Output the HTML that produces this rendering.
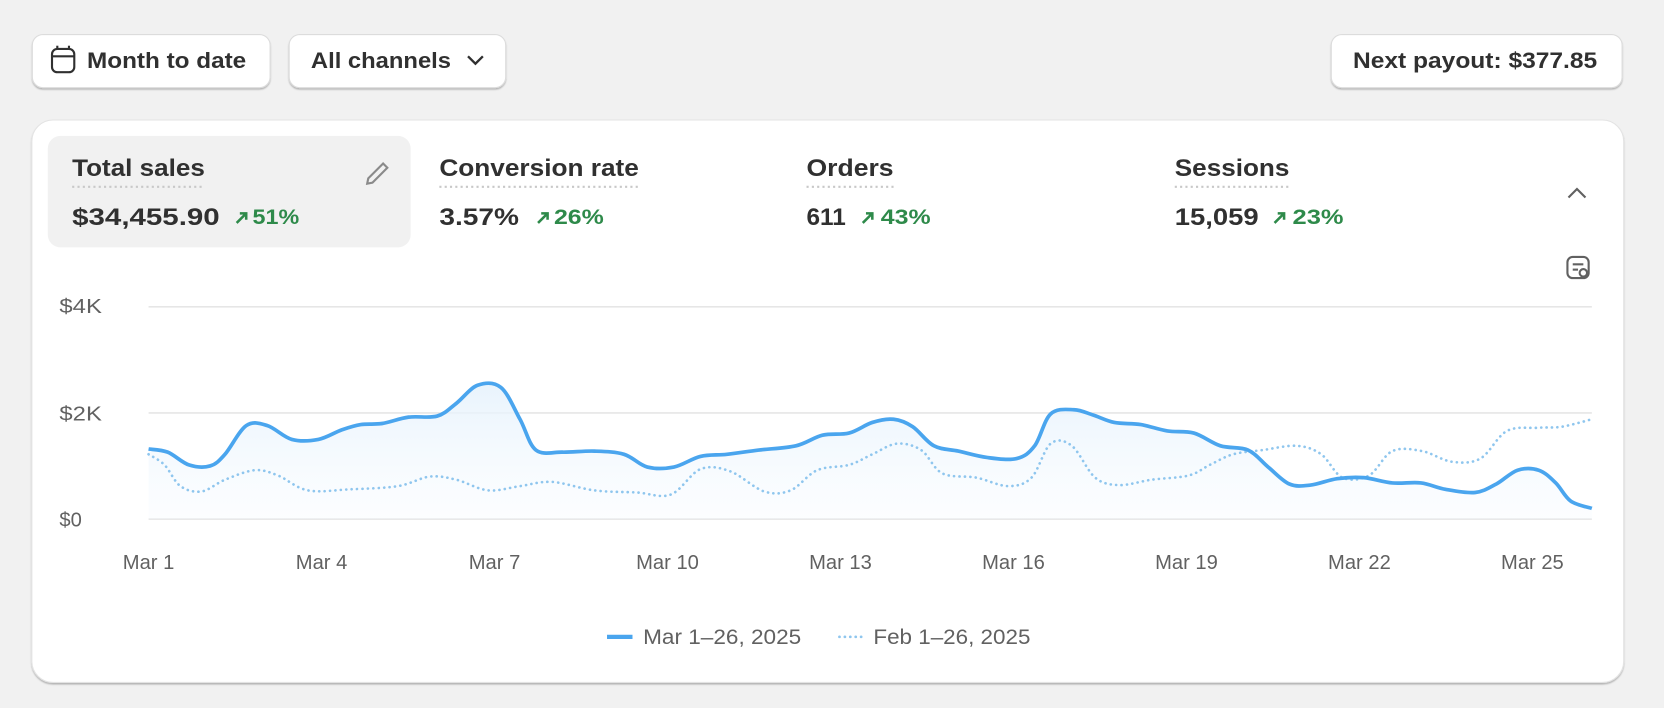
<!DOCTYPE html>
<html><head><meta charset="utf-8"><style>
html,body{margin:0;padding:0;background:#f1f1f1;width:1664px;height:708px;overflow:hidden}
svg{display:block}
text{font-family:"Liberation Sans",sans-serif}
</style></head><body>
<svg id="s" width="1664" height="708" viewBox="0 0 1568 667" xmlns="http://www.w3.org/2000/svg">
<defs>
<linearGradient id="g" x1="0" y1="0" x2="0" y2="1"><stop offset="0" stop-color="#e6f2fc" stop-opacity="0.9"/><stop offset="1" stop-color="#f5faff" stop-opacity="0.3"/></linearGradient>
<filter id="sh" x="-5%" y="-10%" width="110%" height="130%"><feDropShadow dx="0" dy="1.5" stdDeviation="0.8" flood-color="#000" flood-opacity="0.25"/></filter>
</defs>
<rect width="1568" height="667" fill="#f1f1f1"/>
<rect x="30.5" y="32.5" width="224" height="50" rx="10" fill="#fff" stroke="#dcdcdc" filter="url(#sh)"/>
<rect x="272.5" y="32.5" width="204" height="50" rx="10" fill="#fff" stroke="#dcdcdc" filter="url(#sh)"/>
<rect x="1254.5" y="32.5" width="274" height="50" rx="10" fill="#fff" stroke="#dcdcdc" filter="url(#sh)"/>
<g fill="none" stroke="#303030" stroke-width="2">
<rect x="49" y="46" width="21" height="22" rx="5"/><line x1="49" y1="53" x2="70" y2="53"/><line x1="54" y1="43" x2="54" y2="47"/><line x1="65" y1="43" x2="65" y2="47"/>
<polyline points="441,53 448,60 455,53" stroke-width="2.2"/>
</g>
<g font-size="21" font-weight="600" fill="#303030" lengthAdjust="spacingAndGlyphs">
<text x="82" y="64" textLength="150" lengthAdjust="spacingAndGlyphs">Month to date</text>
<text x="293" y="64" textLength="132" lengthAdjust="spacingAndGlyphs">All channels</text>
<text x="1275" y="64" textLength="230" lengthAdjust="spacingAndGlyphs">Next payout: $377.85</text>
</g>
<rect x="30" y="113" width="1500" height="530" rx="20" fill="#fff" stroke="#e3e3e3" filter="url(#sh)"/>
<rect x="45" y="128" width="342" height="105" rx="12" fill="#f1f1f1"/>
<g font-size="23" font-weight="600" fill="#303030">
<text x="68" y="166" textLength="125" lengthAdjust="spacingAndGlyphs">Total sales</text>
<text x="414" y="166" textLength="188" lengthAdjust="spacingAndGlyphs">Conversion rate</text>
<text x="760" y="166" textLength="82" lengthAdjust="spacingAndGlyphs">Orders</text>
<text x="1107" y="166" textLength="108" lengthAdjust="spacingAndGlyphs">Sessions</text>
<text x="68" y="212" textLength="139" lengthAdjust="spacingAndGlyphs">$34,455.90</text>
<text x="414" y="212" textLength="75" lengthAdjust="spacingAndGlyphs">3.57%</text>
<text x="760" y="212" textLength="37" lengthAdjust="spacingAndGlyphs">611</text>
<text x="1107" y="212" textLength="79" lengthAdjust="spacingAndGlyphs">15,059</text>
</g>
<g stroke="#c8c8c8" stroke-width="2" stroke-dasharray="2 3">
<line x1="68" y1="176" x2="193" y2="176"/><line x1="414" y1="176" x2="602" y2="176"/><line x1="760" y1="176" x2="842" y2="176"/><line x1="1107" y1="176" x2="1215" y2="176"/>
</g>
<g font-size="20" font-weight="600" fill="#2e8a4a">
<text x="238" y="211" textLength="44" lengthAdjust="spacingAndGlyphs">51%</text><text x="522" y="211" textLength="47" lengthAdjust="spacingAndGlyphs">26%</text><text x="830" y="211" textLength="47" lengthAdjust="spacingAndGlyphs">43%</text><text x="1218" y="211" textLength="48" lengthAdjust="spacingAndGlyphs">23%</text>
</g>
<g stroke="#2e8a4a" stroke-width="2.4" fill="none">
<path d="M223 210l9-9m-6 0h6v6"/><path d="M507 210l9-9m-6 0h6v6"/><path d="M813 210l9-9m-6 0h6v6"/><path d="M1201 210l9-9m-6 0h6v6"/>
</g>
<path d="M347 168l14-14 4 4-14 14-5 1z" fill="none" stroke="#8a8a8a" stroke-width="2"/>
<polyline points="1478,186 1486,178 1494,186" fill="none" stroke="#616161" stroke-width="2"/>
<g fill="none" stroke="#616161" stroke-width="2"><rect x="1477" y="242" width="20" height="20" rx="5"/><circle cx="1492" cy="257" r="3.5"/><line x1="1482" y1="249" x2="1492" y2="249"/><line x1="1482" y1="254" x2="1487" y2="254"/></g>
<g stroke="#e6e6e6" stroke-width="1.5"><line x1="140" y1="289" x2="1500" y2="289"/><line x1="140" y1="389" x2="1500" y2="389"/><line x1="140" y1="489" x2="1500" y2="489"/></g>
<g font-size="19" fill="#616161">
<text x="56" y="295" textLength="40" lengthAdjust="spacingAndGlyphs">$4K</text><text x="56" y="396" textLength="40" lengthAdjust="spacingAndGlyphs">$2K</text><text x="56" y="496">$0</text>
</g>
<g font-size="19" fill="#616161" text-anchor="middle">
<text x="140" y="536">Mar 1</text><text x="303" y="536">Mar 4</text><text x="466" y="536">Mar 7</text><text x="629" y="536">Mar 10</text><text x="792" y="536">Mar 13</text><text x="955" y="536">Mar 16</text><text x="1118" y="536">Mar 19</text><text x="1281" y="536">Mar 22</text><text x="1444" y="536">Mar 25</text>
</g>
<path id="area" fill="url(#g)"/>
<path id="dot" fill="none" stroke="#8fc6ee" stroke-width="2.5" stroke-dasharray="0.1 5" stroke-linecap="round"/>
<path id="sol" fill="none" stroke="#4aa5ee" stroke-width="3.5" stroke-linejoin="round"/>
<line x1="572" y1="600" x2="596" y2="600" stroke="#4aa5ee" stroke-width="4"/>
<line x1="791" y1="600" x2="812" y2="600" stroke="#8fc6ee" stroke-width="2.5" stroke-dasharray="0.1 5" stroke-linecap="round"/>
<g font-size="20" fill="#616161"><text x="606" y="607" textLength="149" lengthAdjust="spacingAndGlyphs">Mar 1–26, 2025</text><text x="823" y="607" textLength="148" lengthAdjust="spacingAndGlyphs">Feb 1–26, 2025</text></g>
</svg>
<script>
function sp(p){var d="M"+p[0][0]+" "+p[0][1];for(var i=0;i<p.length-1;i++){var a=p[i-1]||p[i],b=p[i],c=p[i+1],e=p[i+2]||c;var t=6;d+=" C"+(b[0]+(c[0]-a[0])/t)+" "+(b[1]+(c[1]-a[1])/t)+" "+(c[0]-(e[0]-b[0])/t)+" "+(c[1]-(e[1]-b[1])/t)+" "+c[0]+" "+c[1];}return d;}
var S=[[140,423],[158,426],[178,438],[198,439],[212,428],[232,401],[252,401],[275,414],[300,414],[322,405],[340,400],[360,399],[385,393],[412,392],[430,380],[450,363],[472,365],[490,395],[505,424],[530,426],[560,425],[588,428],[610,440],[635,440],[660,430],[685,428],[715,424],[750,420],[775,410],[800,408],[822,398],[842,395],[860,402],[880,420],[903,425],[930,431],[958,432],[975,420],[990,390],[1012,386],[1030,391],[1050,398],[1075,400],[1100,406],[1125,408],[1150,420],[1176,424],[1195,440],[1215,456],[1235,457],[1260,451],[1285,450],[1312,455],[1339,455],[1362,461],[1390,464],[1410,456],[1430,443],[1450,443],[1466,455],[1480,472],[1500,479]];
var D=[[140,428],[155,438],[170,458],[190,463],[212,452],[240,443],[262,448],[290,462],[330,461],[375,458],[405,449],[430,452],[460,462],[490,458],[520,454],[560,462],[600,464],[632,466],[660,442],[688,444],[720,463],[745,462],[770,443],[800,438],[822,428],[845,418],[868,424],[888,446],[920,450],[950,458],[972,450],[990,418],[1010,420],[1032,450],[1055,457],[1085,452],[1120,448],[1140,438],[1162,428],[1190,424],[1222,420],[1245,428],[1265,450],[1290,448],[1312,425],[1340,425],[1368,435],[1395,432],[1420,406],[1450,403],[1472,402],[1500,395]];
var s=sp(S);document.getElementById("sol").setAttribute("d",s);
document.getElementById("area").setAttribute("d",s+" L1500 489 L140 489Z");
document.getElementById("dot").setAttribute("d",sp(D));
</script>
</body></html>
